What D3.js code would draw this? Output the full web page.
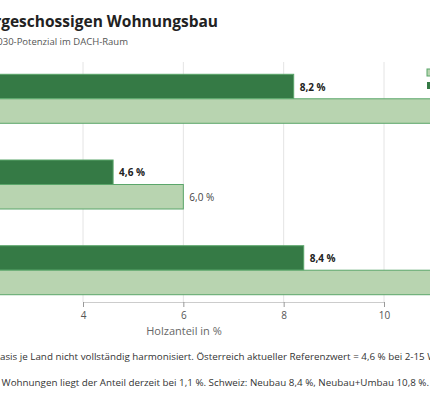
<!DOCTYPE html>
<html><head><meta charset="utf-8">
<script src="https://cdn.jsdelivr.net/npm/d3@7"></script>
<style>body{margin:0;background:#fff;font-family:"Open Sans",sans-serif}</style>
</head><body>
<svg id="c" width="430" height="400"></svg>
<script>
const categories = ["Deutschland", "Österreich", "Schweiz"];
const derzeit = [8.2, 4.6, 8.4];
const potenzial = [14.0, 6.0, 12.0];
const ticks = [0, 2, 4, 6, 8, 10, 12, 14];

const svg = d3.select("#c");
const x = d3.scaleLinear().domain([4, 10]).range([83, 384]);
const y = d3.scaleBand().domain(categories).range([62, 302]).paddingInner(0.3).paddingOuter(0.05);
const bh = 24.5;

svg.append("g").selectAll("line").data(ticks).join("line")
  .attr("x1", d => x(d)).attr("x2", d => x(d)).attr("y1", 62).attr("y2", 302)
  .attr("stroke", "#e4e4e4").attr("stroke-width", 1);

const ax = svg.append("g").attr("transform", "translate(0,302)")
  .call(d3.axisBottom(x).tickValues(ticks).tickSize(5).tickPadding(5).tickFormat(d => d));
ax.select(".domain").attr("stroke", "#ccc");
ax.selectAll(".tick line").attr("stroke", "#999");
ax.selectAll("text").attr("font-family", "Open Sans").attr("font-size", 10).attr("fill", "#555");

svg.append("text").attr("x", 184).attr("y", 335).attr("text-anchor", "middle")
  .attr("font-size", 11).attr("fill", "#666").text("Holzanteil in %");

const g = svg.append("g");
categories.forEach((c, i) => {
  const top = y(c) + 8;
  g.append("rect").attr("x", x(0)).attr("y", top).attr("width", x(derzeit[i]) - x(0)).attr("height", bh)
    .attr("fill", "#357a45").attr("stroke", "#5aa66a").attr("stroke-width", 1);
  g.append("rect").attr("x", x(0)).attr("y", top + bh).attr("width", x(potenzial[i]) - x(0)).attr("height", bh)
    .attr("fill", "#b8d4b0").attr("stroke", "#5aa66a").attr("stroke-width", 1);
  g.append("text").attr("x", x(derzeit[i]) + 6).attr("y", top + bh / 2 + 4)
    .attr("font-size", 10).attr("font-weight", "bold").attr("fill", "#222")
    .text(String(derzeit[i].toFixed(1)).replace(".", ",") + " %");
  if (x(potenzial[i]) < 380)
    g.append("text").attr("x", x(potenzial[i]) + 6).attr("y", top + bh * 1.5 + 4)
      .attr("font-size", 10).attr("fill", "#444")
      .text(String(potenzial[i].toFixed(1)).replace(".", ",") + " %");
});

svg.append("rect").attr("x", 427).attr("y", 69).attr("width", 7).attr("height", 7).attr("fill", "#b8d4b0").attr("stroke", "#5aa66a");
svg.append("rect").attr("x", 427).attr("y", 82).attr("width", 7).attr("height", 7).attr("fill", "#357a45");
svg.append("text").attr("x", 438).attr("y", 76).attr("font-size", 9).attr("fill", "#333").text("2030-Potenzial");
svg.append("text").attr("x", 438).attr("y", 89).attr("font-size", 9).attr("fill", "#333").text("Derzeit");

svg.append("text").attr("x", 218).attr("y", 27).attr("text-anchor", "end")
  .attr("font-size", 15.5).attr("font-weight", "bold").attr("fill", "#222")
  .text("Holzanteil im mehrgeschossigen Wohnungsbau");
svg.append("text").attr("x", 128).attr("y", 45).attr("text-anchor", "end")
  .attr("font-size", 9.5).attr("fill", "#555")
  .text("Aktueller Stand und 2030-Potenzial im DACH-Raum");

function prefixed(prefix, rest, yy, xs) {
  const t = svg.append("text").attr("y", yy).attr("font-size", 9.8).attr("fill", "#333").text(prefix + rest);
  const tmp = svg.append("text").attr("font-size", 9.8).text(prefix);
  const w = tmp.node().getComputedTextLength(); tmp.remove();
  t.attr("x", xs - w);
}
prefixed("Hinweis: Datenb", "asis je Land nicht vollständig harmonisiert. Österreich aktueller Referenzwert = 4,6 % bei 2-15 Wohnungen.", 360, 0);
svg.append("text").attr("x", 429).attr("y", 386).attr("text-anchor", "end").attr("font-size", 9.8).attr("fill", "#333")
  .text("Bei 16+ Wohnungen liegt der Anteil derzeit bei 1,1 %. Schweiz: Neubau 8,4 %, Neubau+Umbau 10,8 %.");
</script>
</body></html>
